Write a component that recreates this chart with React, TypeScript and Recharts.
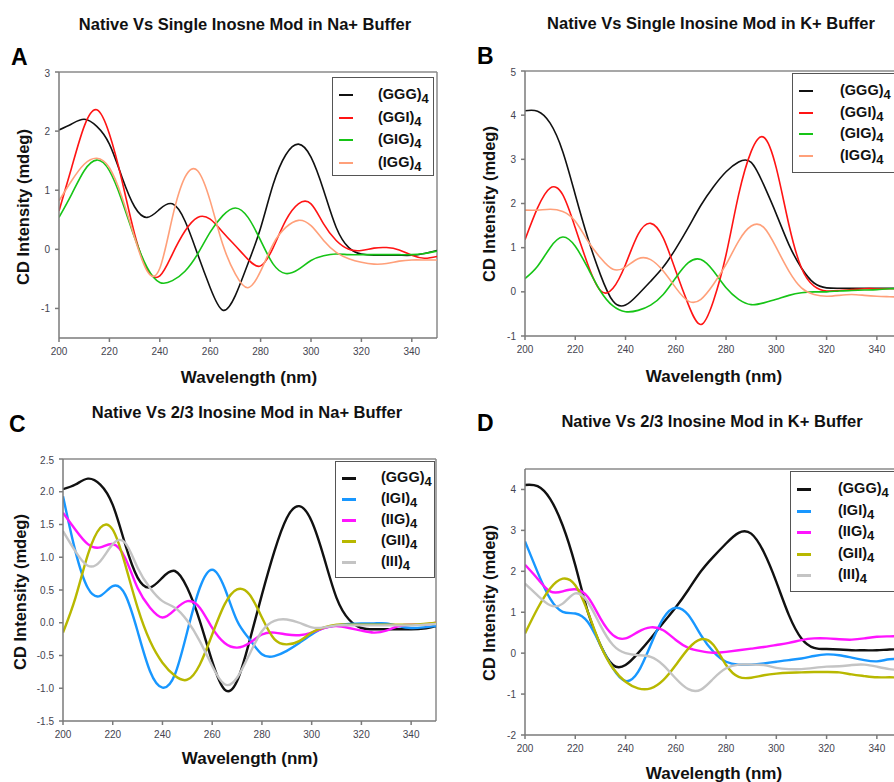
import React from 'react'
import { LineChart, Line, XAxis, YAxis, ReferenceLine } from 'recharts'

const wavelengths = [
  200, 205, 210, 215, 220, 225, 230, 235, 240, 245, 250, 255, 260, 265, 270, 275,
  280, 285, 290, 295, 300, 305, 310, 315, 320, 325, 330, 335, 340, 345, 350,
]
const xTicks = [200, 220, 240, 260, 280, 300, 320, 340]

// Panel A: Na+ buffer, single inosine
const naGGG = [2.02, 2.12, 2.2, 2.08, 1.78, 1.22, 0.72, 0.54, 0.68, 0.77, 0.48, -0.08, -0.65, -1.03, -0.78, -0.24, 0.36, 1.1, 1.6, 1.78, 1.56, 1.0, 0.37, 0.03, -0.08, -0.1, -0.1, -0.1, -0.1, -0.07, -0.02]
const naGGI = [0.65, 1.38, 2.08, 2.36, 1.95, 1.16, 0.26, -0.34, -0.45, -0.08, 0.31, 0.54, 0.51, 0.29, 0.06, -0.17, -0.28, 0.03, 0.49, 0.77, 0.77, 0.43, 0.15, 0.0, -0.02, 0.02, 0.03, -0.01, -0.1, -0.15, -0.12]
const naGIG = [0.54, 0.93, 1.33, 1.51, 1.33, 0.82, 0.2, -0.31, -0.56, -0.53, -0.37, -0.08, 0.29, 0.57, 0.7, 0.54, 0.15, -0.25, -0.41, -0.34, -0.19, -0.11, -0.08, -0.09, -0.09, -0.09, -0.09, -0.09, -0.09, -0.07, -0.03]
const naIGG = [0.82, 1.16, 1.44, 1.54, 1.38, 0.88, 0.2, -0.37, -0.32, 0.54, 1.22, 1.33, 0.82, 0.08, -0.42, -0.65, -0.37, 0.09, 0.37, 0.49, 0.4, 0.15, -0.05, -0.16, -0.22, -0.25, -0.24, -0.2, -0.18, -0.18, -0.18]

// Panel B: K+ buffer, single inosine
const kGGG = [4.1, 4.09, 3.82, 3.18, 2.2, 1.22, 0.39, -0.21, -0.3, -0.06, 0.24, 0.56, 0.98, 1.46, 1.96, 2.38, 2.72, 2.94, 2.93, 2.42, 1.76, 1.07, 0.54, 0.2, 0.09, 0.08, 0.08, 0.08, 0.08, 0.08, 0.08]
const kGGI = [1.18, 1.9, 2.35, 2.2, 1.45, 0.62, 0.03, 0.08, 0.62, 1.3, 1.55, 1.22, 0.47, -0.29, -0.74, -0.2, 0.84, 2.2, 3.18, 3.5, 2.8, 1.52, 0.54, 0.13, 0.02, 0.03, 0.05, 0.07, 0.07, 0.07, 0.07]
const kGIG = [0.3, 0.58, 1.0, 1.24, 1.03, 0.54, 0.02, -0.32, -0.45, -0.42, -0.3, -0.06, 0.32, 0.66, 0.73, 0.47, 0.09, -0.17, -0.29, -0.25, -0.17, -0.08, -0.02, 0.0, 0.0, 0.02, 0.03, 0.04, 0.05, 0.07, 0.07]
const kIGG = [1.85, 1.85, 1.87, 1.82, 1.6, 1.15, 0.77, 0.51, 0.56, 0.75, 0.73, 0.47, 0.09, -0.21, -0.17, 0.17, 0.62, 1.15, 1.49, 1.46, 1.0, 0.47, 0.09, -0.06, -0.1, -0.08, -0.06, -0.08, -0.1, -0.11, -0.12]

// Panel C: Na+ buffer, 2/3 inosine
const na2GGG = [2.04, 2.11, 2.2, 2.11, 1.8, 1.2, 0.69, 0.54, 0.69, 0.79, 0.53, 0.03, -0.59, -1.02, -0.89, -0.28, 0.43, 1.09, 1.6, 1.78, 1.55, 0.99, 0.38, 0.05, -0.08, -0.1, -0.1, -0.1, -0.1, -0.09, -0.05]
const na2IGI = [1.93, 1.09, 0.53, 0.41, 0.56, 0.43, -0.13, -0.74, -0.99, -0.79, -0.13, 0.53, 0.81, 0.53, 0.03, -0.25, -0.48, -0.51, -0.43, -0.31, -0.18, -0.08, -0.04, -0.02, -0.01, -0.01, -0.01, -0.05, -0.08, -0.07, -0.05]
const na2IIG = [1.68, 1.42, 1.2, 1.15, 1.2, 0.99, 0.53, 0.23, 0.08, 0.2, 0.33, 0.23, -0.08, -0.31, -0.38, -0.31, -0.18, -0.15, -0.18, -0.19, -0.15, -0.08, -0.05, -0.08, -0.12, -0.15, -0.12, -0.05, -0.03, -0.03, 0.0]
const na2GII = [-0.15, 0.38, 1.04, 1.45, 1.42, 0.89, 0.23, -0.28, -0.61, -0.81, -0.87, -0.64, -0.18, 0.28, 0.51, 0.43, 0.08, -0.25, -0.33, -0.28, -0.15, -0.07, -0.03, -0.03, -0.03, -0.03, -0.03, -0.03, -0.03, -0.02, 0.0]
const na2III = [1.4, 1.09, 0.87, 0.94, 1.2, 1.22, 0.84, 0.53, 0.33, 0.23, 0.03, -0.28, -0.66, -0.94, -0.84, -0.48, -0.13, 0.03, 0.05, 0.0, -0.07, -0.07, -0.04, -0.04, -0.04, -0.04, -0.04, -0.04, -0.04, -0.03, -0.02]

// Panel D: K+ buffer, 2/3 inosine
const k2GGG = [4.11, 4.08, 3.77, 3.12, 2.15, 1.01, 0.2, -0.29, -0.29, 0.0, 0.36, 0.74, 1.12, 1.55, 2.0, 2.36, 2.68, 2.94, 2.92, 2.47, 1.74, 0.93, 0.36, 0.13, 0.1, 0.09, 0.07, 0.07, 0.07, 0.09, 0.09]
const k2IGI = [2.73, 1.98, 1.33, 1.01, 0.97, 0.76, 0.2, -0.37, -0.68, -0.46, 0.2, 0.85, 1.11, 0.93, 0.44, 0.03, -0.21, -0.28, -0.28, -0.25, -0.21, -0.17, -0.13, -0.07, -0.03, -0.05, -0.11, -0.17, -0.2, -0.15, -0.15]
const k2IIG = [2.16, 1.82, 1.51, 1.51, 1.56, 1.37, 0.85, 0.44, 0.36, 0.52, 0.63, 0.56, 0.32, 0.13, 0.05, 0.01, 0.03, 0.07, 0.11, 0.15, 0.2, 0.25, 0.32, 0.36, 0.36, 0.34, 0.33, 0.36, 0.4, 0.41, 0.42]
const k2GII = [0.48, 1.09, 1.58, 1.82, 1.66, 1.01, 0.2, -0.37, -0.7, -0.86, -0.86, -0.66, -0.29, 0.11, 0.34, 0.2, -0.29, -0.58, -0.6, -0.54, -0.5, -0.48, -0.47, -0.46, -0.46, -0.47, -0.52, -0.56, -0.59, -0.59, -0.6]
const k2III = [1.7, 1.41, 1.17, 1.21, 1.46, 1.25, 0.68, 0.2, 0.0, -0.05, -0.09, -0.29, -0.62, -0.88, -0.89, -0.62, -0.37, -0.28, -0.28, -0.29, -0.36, -0.39, -0.39, -0.36, -0.33, -0.32, -0.29, -0.28, -0.33, -0.39, -0.42]

const FONT = '"Liberation Sans", Arial, sans-serif'

type Series = { name: string; color: string; values: number[] }

type PanelSpec = {
  letter: string
  title: string
  letterPos: [number, number]
  titlePos: [number, number]
  xLabelPos: [number, number]
  yLabelPos: [number, number]
  plotLeft: number
  plotTop: number
  plotW: number
  plotH: number
  yDomain: [number, number]
  yTicks: number[]
  decimals: number
  strokeWidth: number
  series: Series[]
  legend: { left: number; top: number; width: number; height: number; rowH: number; padTop: number; textLeft: number }
}

const panels: PanelSpec[] = [
  {
    letter: 'A',
    title: 'Native Vs Single Inosne Mod in Na+ Buffer',
    letterPos: [11, 46],
    titlePos: [245, 24],
    xLabelPos: [249, 378],
    yLabelPos: [23, 207],
    plotLeft: 59, plotTop: 72, plotW: 378, plotH: 266,
    yDomain: [-1.5, 3], yTicks: [-1, 0, 1, 2, 3], decimals: 0, strokeWidth: 1.6,
    series: [
      { name: 'GGG', color: '#111111', values: naGGG },
      { name: 'GGI', color: '#ff1414', values: naGGI },
      { name: 'GIG', color: '#16c416', values: naGIG },
      { name: 'IGG', color: '#ffa07a', values: naIGG },
    ],
    legend: { left: 332, top: 77, width: 102, height: 99, rowH: 22.7, padTop: 6, textLeft: 45 },
  },
  {
    letter: 'B',
    title: 'Native Vs Single Inosine Mod in K+ Buffer',
    letterPos: [477, 45],
    titlePos: [711, 23],
    xLabelPos: [714, 377],
    yLabelPos: [489, 204],
    plotLeft: 525, plotTop: 71, plotW: 377, plotH: 265,
    yDomain: [-1, 5], yTicks: [-1, 0, 1, 2, 3, 4, 5], decimals: 0, strokeWidth: 1.6,
    series: [
      { name: 'GGG', color: '#111111', values: kGGG },
      { name: 'GGI', color: '#ff1414', values: kGGI },
      { name: 'GIG', color: '#16c416', values: kGIG },
      { name: 'IGG', color: '#ffa07a', values: kIGG },
    ],
    legend: { left: 792, top: 73, width: 110, height: 100, rowH: 21.5, padTop: 7, textLeft: 47 },
  },
  {
    letter: 'C',
    title: 'Native Vs 2/3 Inosine Mod in Na+ Buffer',
    letterPos: [9, 413],
    titlePos: [247, 412],
    xLabelPos: [250, 759],
    yLabelPos: [20, 592],
    plotLeft: 63, plotTop: 459, plotW: 373, plotH: 262,
    yDomain: [-1.5, 2.5], yTicks: [-1.5, -1, -0.5, 0, 0.5, 1, 1.5, 2, 2.5], decimals: 1, strokeWidth: 2.4,
    series: [
      { name: 'GGG', color: '#111111', values: na2GGG },
      { name: 'IGI', color: '#1897ff', values: na2IGI },
      { name: 'IIG', color: '#ff14ff', values: na2IIG },
      { name: 'GII', color: '#b8b800', values: na2GII },
      { name: 'III', color: '#c4c4c4', values: na2III },
    ],
    legend: { left: 335, top: 461, width: 100, height: 117, rowH: 21, padTop: 6, textLeft: 45 },
  },
  {
    letter: 'D',
    title: 'Native Vs 2/3 Inosine Mod in K+ Buffer',
    letterPos: [477, 412],
    titlePos: [712, 421],
    xLabelPos: [714, 774],
    yLabelPos: [489, 603],
    plotLeft: 525, plotTop: 469, plotW: 377, plotH: 266,
    yDomain: [-2, 4.5], yTicks: [-2, -1, 0, 1, 2, 3, 4], decimals: 0, strokeWidth: 2.4,
    series: [
      { name: 'GGG', color: '#111111', values: k2GGG },
      { name: 'IGI', color: '#1897ff', values: k2IGI },
      { name: 'IIG', color: '#ff14ff', values: k2IIG },
      { name: 'GII', color: '#b8b800', values: k2GII },
      { name: 'III', color: '#c4c4c4', values: k2III },
    ],
    legend: { left: 790, top: 471, width: 112, height: 121, rowH: 21.5, padTop: 7, textLeft: 47 },
  },
]

const tickStyle = { fill: '#44444f', fontSize: 10, fontFamily: FONT }

function Panel({ p }: { p: PanelSpec }) {
  const yW = 50
  const xH = 40
  const mt = 4
  const mr = 4
  const rows = wavelengths.map((wl, i) => {
    const row: Record<string, number> = { wl }
    p.series.forEach((s) => {
      row[s.name] = s.values[i]
    })
    return row
  })

  return (
    <>
      <div style={{ position: 'absolute', left: p.letterPos[0], top: p.letterPos[1], fontFamily: FONT, fontWeight: 700, fontSize: 23, lineHeight: '23px', color: '#000' }}>
        {p.letter}
      </div>
      <div style={{ position: 'absolute', left: p.titlePos[0], top: p.titlePos[1], transform: 'translate(-50%, -50%)', whiteSpace: 'nowrap', fontFamily: FONT, fontWeight: 700, fontSize: 16.5, color: '#111' }}>
        {p.title}
      </div>
      <div style={{ position: 'absolute', left: p.plotLeft - yW, top: p.plotTop - mt }}>
        <LineChart
          width={p.plotW + yW + mr}
          height={p.plotH + mt + xH}
          data={rows}
          margin={{ top: mt, right: mr, bottom: 0, left: 0 }}
        >
          <XAxis
            dataKey="wl"
            type="number"
            domain={[200, 350]}
            ticks={xTicks}
            height={xH}
            tick={tickStyle}
            tickSize={4}
            tickMargin={6}
            stroke="#7a7a7a"
            strokeWidth={1.5}
            allowDataOverflow
          />
          <YAxis
            type="number"
            domain={p.yDomain}
            ticks={p.yTicks}
            width={yW}
            tick={tickStyle}
            tickSize={4}
            tickMargin={5}
            stroke="#7a7a7a"
            strokeWidth={1.5}
            tickFormatter={(v: number) => v.toFixed(p.decimals)}
            allowDataOverflow
          />
          <ReferenceLine y={p.yDomain[1]} stroke="#8a8a8a" strokeWidth={1.5} />
          <ReferenceLine x={350} stroke="#8a8a8a" strokeWidth={1.5} />
          {p.series.map((s) => (
            <Line
              key={s.name}
              type="natural"
              dataKey={s.name}
              stroke={s.color}
              strokeWidth={p.strokeWidth}
              dot={false}
              isAnimationActive={false}
            />
          ))}
        </LineChart>
      </div>
      <div style={{ position: 'absolute', left: p.xLabelPos[0], top: p.xLabelPos[1], transform: 'translate(-50%, -50%)', whiteSpace: 'nowrap', fontFamily: FONT, fontWeight: 700, fontSize: 17, color: '#111' }}>
        Wavelength (nm)
      </div>
      <div style={{ position: 'absolute', left: p.yLabelPos[0], top: p.yLabelPos[1], transform: 'translate(-50%, -50%) rotate(-90deg)', whiteSpace: 'nowrap', fontFamily: FONT, fontWeight: 700, fontSize: 16.5, color: '#111' }}>
        CD Intensity (mdeg)
      </div>
      <div
        style={{
          position: 'absolute',
          left: p.legend.left,
          top: p.legend.top,
          width: p.legend.width,
          height: p.legend.height,
          boxSizing: 'border-box',
          border: '1.5px solid #555',
          background: '#fff',
          paddingTop: p.legend.padTop,
        }}
      >
        {p.series.map((s) => (
          <div key={s.name} style={{ position: 'relative', height: p.legend.rowH }}>
            <div style={{ position: 'absolute', left: 6, top: p.legend.rowH / 2 - 1.5, width: 14, height: p.strokeWidth > 2 ? 3 : 2, background: s.color }} />
            <div style={{ position: 'absolute', left: p.legend.textLeft, top: -1, lineHeight: `${p.legend.rowH}px`, whiteSpace: 'nowrap', fontFamily: FONT, fontWeight: 700, fontSize: 14.5, color: '#111' }}>
              ({s.name})<sub style={{ fontSize: 13, verticalAlign: -4 }}>4</sub>
            </div>
          </div>
        ))}
      </div>
    </>
  )
}

export default function App() {
  return (
    <div style={{ position: 'absolute', left: 0, top: 0, width: 894, height: 782, overflow: 'hidden', background: '#fff' }}>
      {panels.map((p) => (
        <Panel key={p.letter} p={p} />
      ))}
    </div>
  )
}
